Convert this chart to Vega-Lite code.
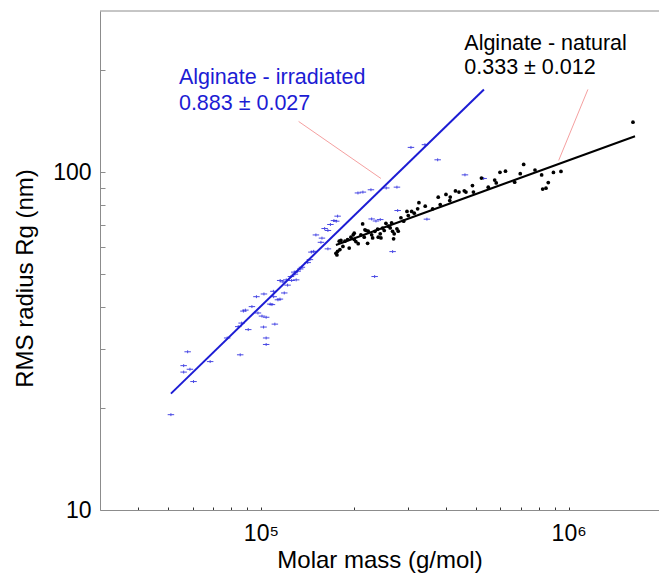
{
  "$schema": "https://vega.github.io/schema/vega-lite/v6.json",
  "width": 559,
  "height": 499,
  "autosize": {"type": "none"},
  "padding": {"left": 100, "top": 11, "right": 0, "bottom": 63},
  "background": "white",
  "config": {
    "view": {"stroke": null},
    "font": "Liberation Sans",
    "text": {"font": "Liberation Sans"}
  },
  "datasets": {
    "irr": [
      {"M":51000,"R":19.15},{"M":57800,"R":29.4},{"M":56100,"R":26.75},{"M":58800,"R":26.1},{"M":56100,"R":25.6},
      {"M":60400,"R":24.0},{"M":68400,"R":27.5},{"M":77700,"R":32.3},{"M":85650,"R":28.8},{"M":90950,"R":34.2},
      {"M":84400,"R":34.9},{"M":86560,"R":35.75},{"M":87740,"R":38.8},{"M":89040,"R":39.06},{"M":93500,"R":40.0},
      {"M":96700,"R":42.8},{"M":102300,"R":43.6},{"M":97800,"R":38.3},{"M":100800,"R":37.5},{"M":104000,"R":37.2},
      {"M":102000,"R":34.8},{"M":104000,"R":32.3},{"M":104000,"R":30.9},{"M":111000,"R":35.5},{"M":107200,"R":40.7},
      {"M":108600,"R":40.55},{"M":113600,"R":41.9},{"M":115300,"R":42.1},{"M":109800,"R":44.4},{"M":119100,"R":43.9},
      {"M":122100,"R":46.3},{"M":117900,"R":47.35},{"M":115500,"R":47.8},{"M":125850,"R":47.8},{"M":125200,"R":49.1},
      {"M":128950,"R":49.9},{"M":128300,"R":50.6},{"M":131600,"R":50.9},{"M":134200,"R":51.7},{"M":135900,"R":52.3},
      {"M":141900,"R":54.0},{"M":144300,"R":55.1},{"M":148400,"R":58.3},{"M":145900,"R":58.0},{"M":156700,"R":62.0},
      {"M":157900,"R":63.8},{"M":150900,"R":65.2},{"M":165100,"R":59.3},{"M":161100,"R":68.1},{"M":165100,"R":67.2},
      {"M":168200,"R":70.0},{"M":177500,"R":74.1},{"M":172700,"R":71.9},{"M":175700,"R":71.6},{"M":206700,"R":86.8},
      {"M":214500,"R":87.3},{"M":227800,"R":88.7},{"M":255400,"R":89.8},{"M":276700,"R":90.3},{"M":278200,"R":77.0},
      {"M":307300,"R":118.4},{"M":341200,"R":120.6},{"M":375300,"R":108.8},{"M":460300,"R":98.2},{"M":529400,"R":95.8},
      {"M":346300,"R":72.6},{"M":267900,"R":58.2},{"M":234200,"R":49.1},{"M":229000,"R":72.7},{"M":236500,"R":71.7},
      {"M":244200,"R":72.4},{"M":120900,"R":48.0},{"M":110000,"R":42.8},{"M":130200,"R":48.0}
    ],
    "nat": [
      {"M":175300,"R":57.5},{"M":177500,"R":58.3},{"M":176600,"R":56.9},{"M":179700,"R":62.5},{"M":182000,"R":62.8},
      {"M":187500,"R":62.5},{"M":191300,"R":63.2},{"M":193600,"R":59.6},{"M":196100,"R":64.2},{"M":199500,"R":65.25},
      {"M":201000,"R":63.2},{"M":203500,"R":62.3},{"M":207100,"R":61.4},{"M":211300,"R":65.25},{"M":214100,"R":70.3},
      {"M":216600,"R":64.2},{"M":219900,"R":67.2},{"M":223200,"R":66.9},{"M":222200,"R":61.6},{"M":229000,"R":65.25},
      {"M":230700,"R":63.9},{"M":234700,"R":66.8},{"M":239500,"R":67.8},{"M":240600,"R":64.2},{"M":244200,"R":65.7},
      {"M":248600,"R":68.3},{"M":251600,"R":67.2},{"M":254800,"R":70.6},{"M":259200,"R":69.2},{"M":263100,"R":68.4},
      {"M":265900,"R":70.8},{"M":267900,"R":66.8},{"M":269900,"R":63.5},{"M":271100,"R":65.7},{"M":276700,"R":68.0},
      {"M":279400,"R":66.9},{"M":285100,"R":73.3},{"M":291000,"R":71.6},{"M":298300,"R":76.5},{"M":301200,"R":74.4},
      {"M":308900,"R":76.5},{"M":315000,"R":75.6},{"M":326200,"R":81.2},{"M":323100,"R":77.9},{"M":341900,"R":79.3},
      {"M":361400,"R":77.9},{"M":376900,"R":84.3},{"M":382600,"R":80.2},{"M":399300,"R":85.9},{"M":412400,"R":84.4},
      {"M":410800,"R":82.4},{"M":428700,"R":88.0},{"M":440100,"R":87.3},{"M":458000,"R":88.1},{"M":463800,"R":87.3},
      {"M":486900,"R":91.3},{"M":490500,"R":87.3},{"M":520800,"R":96.1},{"M":548000,"R":90.3},{"M":574900,"R":94.8},
      {"M":581800,"R":92.9},{"M":598100,"R":99.9},{"M":623300,"R":100.7},{"M":667600,"R":93.4},{"M":696200,"R":99.0},
      {"M":714200,"R":105.4},{"M":777300,"R":101.5},{"M":817000,"R":98.1},{"M":858500,"R":93.2},{"M":843900,"R":89.7},
      {"M":823300,"R":89.1},{"M":892400,"R":99.8},{"M":944100,"R":100.5},{"M":1618000,"R":140.6},{"M":201000,"R":66.0},
      {"M":217800,"R":67.5},{"M":245500,"R":63.9},{"M":184700,"R":60.3},{"M":180600,"R":59.0}
    ],
    "fits": [
      {"s":"irr","M":51000,"R":22.1,"M2":530500,"R2":175.8},
      {"s":"nat","M":175300,"R":60.9,"M2":1643000,"R2":127.8}
    ],
    "leaders": [
      {"M":132600,"R":141.3,"M2":245500,"R2":95.8},
      {"M":1155000,"R":175.8,"M2":928000,"R2":108.3}
    ],
    "frame": [
      {"M":30000,"R":300,"M2":1966000}
    ],
    "labels": [
      {"s":"irr","M":54150,"R":182.8,"t":"Alginate - irradiated"},
      {"s":"irr","M":54150,"R":152.9,"t":"0.883 ± 0.027"},
      {"s":"nat","M":458000,"R":229.4,"t":"Alginate - natural"},
      {"s":"nat","M":458000,"R":194.8,"t":"0.333 ± 0.012"}
    ]
  },
  "encoding": {
    "x": {
      "field": "M", "type": "quantitative",
      "scale": {"type": "log", "domain": [30000, 1966000], "nice": false, "zero": false},
      "axis": {
        "title": "Molar mass (g/mol)",
        "values": [40000,50000,60000,70000,80000,90000,100000,200000,300000,400000,500000,600000,700000,800000,900000,1000000],
        "labelExpr": "datum.value == 100000 ? '10⁵' : datum.value == 1000000 ? '10⁶' : ''",
        "grid": false,
        "tickSize": -3, "tickColor": "#333333", "tickWidth": 1,
        "domainColor": "#8c8c8c",
        "labelFont": "Liberation Sans", "labelFontSize": 23, "labelColor": "#000000", "labelPadding": 15,
        "labelOverlap": false, "labelFlush": false,
        "titleFont": "Liberation Sans", "titleFontSize": 24, "titleFontWeight": "normal", "titleColor": "#000000",
        "titleBaseline": "alphabetic", "titleY": 57.5
      }
    },
    "y": {
      "field": "R", "type": "quantitative",
      "scale": {"type": "log", "domain": [10, 300], "nice": false, "zero": false},
      "axis": {
        "title": "RMS radius Rg (nm)",
        "values": [10,20,30,40,50,60,70,80,90,100,200],
        "labelExpr": "datum.value == 10 ? '10' : datum.value == 100 ? '100' : ''",
        "grid": false,
        "tickSize": -5, "tickColor": "#8c8c8c",
        "domainColor": "#8c8c8c",
        "labelFont": "Liberation Sans", "labelFontSize": 23, "labelColor": "#000000", "labelPadding": 14,
        "labelOverlap": false, "labelFlush": false,
        "titleFont": "Liberation Sans", "titleFontSize": 24, "titleFontWeight": "normal", "titleColor": "#000000",
        "titleX": -75, "titleY": 267, "titleBaseline": "middle"
      }
    }
  },
  "layer": [
    {
      "data": {"name": "frame"},
      "mark": {"type": "rule", "color": "#8c8c8c", "strokeWidth": 1},
      "encoding": {"x2": {"field": "M2"}}
    },
    {
      "data": {"name": "leaders"},
      "mark": {"type": "rule", "color": "#f5a0a0", "strokeWidth": 1},
      "encoding": {"x2": {"field": "M2"}, "y2": {"field": "R2"}}
    },
    {
      "data": {"name": "irr"},
      "mark": {"type": "point", "shape": "M-1,0H1M0,-0.45V0.45", "filled": false, "stroke": "#2a2ae0", "strokeWidth": 1, "size": 42, "opacity": 0.85}
    },
    {
      "data": {"name": "nat"},
      "mark": {"type": "point", "shape": "circle", "filled": true, "color": "#000000", "size": 14, "opacity": 1}
    },
    {
      "data": {"name": "fits"},
      "mark": {"type": "rule", "strokeWidth": 2},
      "encoding": {
        "x2": {"field": "M2"}, "y2": {"field": "R2"},
        "color": {"field": "s", "type": "nominal", "scale": {"domain": ["irr", "nat"], "range": ["#1c1cd4", "#000000"]}, "legend": null},
        "strokeWidth": {"field": "s", "type": "nominal", "scale": {"domain": ["irr", "nat"], "range": [2, 1.6]}, "legend": null}
      }
    },
    {
      "data": {"name": "labels"},
      "mark": {"type": "text", "align": "left", "baseline": "alphabetic", "fontSize": 21.5, "font": "Liberation Sans"},
      "encoding": {
        "text": {"field": "t"},
        "color": {"field": "s", "type": "nominal", "scale": {"domain": ["irr", "nat"], "range": ["#1c1cd4", "#111111"]}, "legend": null}
      }
    }
  ]
}
